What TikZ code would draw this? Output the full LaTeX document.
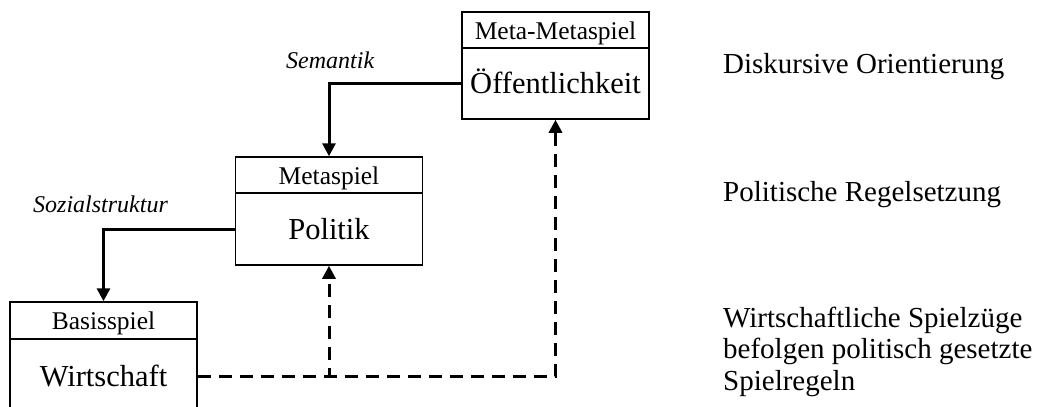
\documentclass[tikz,border=0pt]{standalone}
\usepackage{fontspec}
\setmainfont{Liberation Serif}
\usetikzlibrary{arrows.meta}
\begin{document}
\begin{tikzpicture}[x=1pt,y=-1pt,
  box/.style={draw,line width=1.5pt,minimum width=187pt,inner sep=0pt,anchor=center},
  head/.style={box,minimum height=36pt,font=\fontsize{25.5}{27}\selectfont,text height=18pt,text depth=0pt},
  body/.style={box,minimum height=72pt,font=\fontsize{30.5}{32}\selectfont,text height=20pt,text depth=0pt},
  conn/.style={line width=3pt,-{Triangle[width=13pt,length=13pt]}},
  dconn/.style={line width=3pt,dash pattern=on 13pt off 8pt,-{Triangle[width=13pt,length=13pt]}},
  lbl/.style={font=\fontsize{24}{26}\selectfont\itshape,anchor=base west,inner sep=0pt},
  side/.style={font=\fontsize{29}{31.5}\selectfont,anchor=base west,inner sep=0pt,align=left}]
\useasboundingbox (0,0) rectangle (1039,407);
\fill[white] (0,0) rectangle (1039,407);
\begin{scope}
\clip (0,0) rectangle (1039,407);
% Meta-Metaspiel box
\node[head] (oh) at (555.5,30) {Meta-Metaspiel};
\node[body,minimum height=71pt] (ob) at (555.5,83.5) {Öffentlichkeit};
% Metaspiel box
\node[head] (mh) at (329,175) {Metaspiel};
\node[body] (mb) at (329,229) {Politik};
% Basisspiel box
\node[head,minimum height=37pt] (bh) at (103.5,320.5) {Basisspiel};
\node[body,minimum height=74pt] (bb) at (103.5,376) {Wirtschaft};
% connectors
\draw[conn] (ob.west) -| (mh.north);
\draw[conn] (mb.west) -| (bh.north);
\draw[dconn] (bb.east) -| (mb.south);
\draw[dconn] (bb.east) -| (ob.south);
\end{scope}
% labels
\node[lbl] (sem) at (286,68) {Semantik};
\node[lbl] (soz) at (33,212) {Sozialstruktur};
% side texts
\node[side] (t1) at (723,73) {Diskursive Orientierung};
\node[side] (t2) at (723,201) {Politische Regelsetzung};
\node[side] (t3a) at (723,327) {Wirtschaftliche Spielzüge};
\node[side] (t3b) at (723,358) {befolgen politisch gesetzte};
\node[side] (t3c) at (723,390) {Spielregeln};
\end{tikzpicture}
\end{document}
